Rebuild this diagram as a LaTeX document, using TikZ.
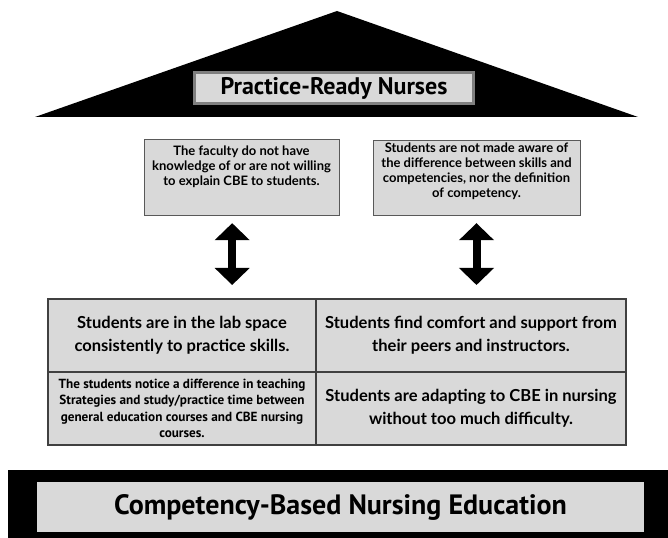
\documentclass[tikz,border=0pt]{standalone}
\usepackage{fontspec}
\setmainfont{Lato}
\newfontfamily\bannerfont{PT Sans}
\usetikzlibrary{arrows.meta, positioning}
\definecolor{BoxGray}{HTML}{D9D9D9}
\definecolor{RimGray}{HTML}{7F7F7F}
\definecolor{EdgeGray}{HTML}{595959}
\definecolor{GridLine}{HTML}{404040}

\begin{document}
\begin{tikzpicture}[
    x=0.75pt, y=-0.75pt,
    banner/.style={fill=BoxGray, inner sep=0pt, align=center,
        font=\bannerfont\bfseries},
    issue/.style={draw=EdgeGray, line width=0.75pt, fill=BoxGray},
    issuetext/.style={inner sep=0pt, align=center,
        font=\bfseries\fontsize{9.75}{11.2}\selectfont},
    cell/.style={draw=GridLine, line width=1.1pt, fill=BoxGray, inner sep=0pt,
        outer sep=0pt, minimum height=54.75pt, align=center},
    bigtext/.style={font=\bfseries\fontsize{12.4}{17}\selectfont},
    smalltext/.style={font=\bannerfont\bfseries\fontsize{9.9}{12.4}\selectfont},
    dblarrow/.style={line width=6pt,
        {Triangle[width=25.5pt, length=12.75pt]}-{Triangle[width=25.5pt, length=12.75pt]}},
]
\useasboundingbox (0,0) rectangle (668,538);

% === Roof ===
\fill[black] (35,117) -- (337,11) -- (638,117) -- cycle;
\node[banner, draw=RimGray, line width=2.25pt, minimum width=209.25pt,
    minimum height=23.25pt, font=\bannerfont\bfseries\fontsize{18}{20}\selectfont]
    (nurses) at (334,88) {Practice-Ready Nurses};

% === Barriers ===
\node[issue, minimum width=146.25pt, minimum height=57pt] (faculty) at (241.5,178) {};
\node[issuetext, below=4.5pt of faculty.north] (facultytext)
    {The faculty do not have\\knowledge of or are not willing\\to explain CBE to students.};
\node[issue, minimum width=155.25pt, minimum height=56.25pt] (aware) at (476.5,178.5) {};
\node[issuetext, below=1.5pt of aware.north] (awaretext)
    {Students are not made aware of\\the difference between skills and\\competencies, nor the definition\\of competency.};

% === Findings grid ===
\node[cell, bigtext, minimum width=201pt] (lab) at (182,335.5)
    {Students are in the lab space\\consistently to practice skills.};
\node[cell, bigtext, minimum width=232.5pt, anchor=west] (peers) at (lab.east)
    {Students find comfort and support from\\their peers and instructors.};
\node[cell, smalltext, minimum width=201pt, anchor=north] (teaching) at (lab.south)
    {The students notice a difference in teaching\\Strategies and study/practice time between\\general education courses and CBE nursing\\courses.};
\node[cell, bigtext, minimum width=232.5pt, anchor=west] (adapting) at (teaching.east)
    {Students are adapting to CBE in nursing\\without too much difficulty.};

% Double arrows between barriers and grid
\draw[dblarrow, shorten <=5pt, shorten >=10.5pt]
    ([xshift=-7pt]faculty.south) -- ([xshift=-7pt]faculty.south |- lab.north);
\draw[dblarrow, shorten <=5pt, shorten >=10.5pt]
    (aware.south) -- (aware.south |- peers.north);

% === Foundation ===
\fill[black] (8,470) rectangle (668,538);
\node[banner, minimum width=455.25pt, minimum height=37.5pt,
    font=\bannerfont\bfseries\fontsize{21}{24}\selectfont]
    (cbne) at (340.5,507) {Competency-Based Nursing Education};

\end{tikzpicture}
\end{document}
